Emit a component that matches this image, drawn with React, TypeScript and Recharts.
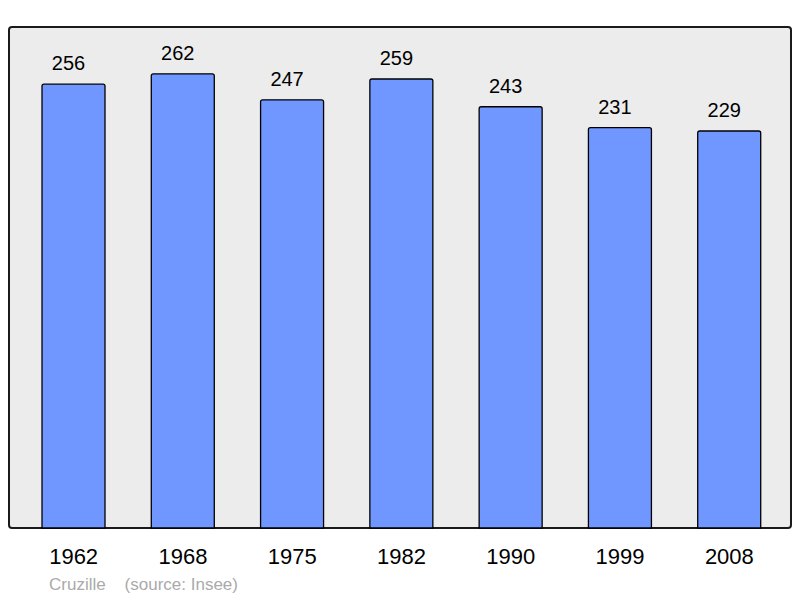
import { Bar, BarChart, LabelList, XAxis, YAxis } from "recharts";

const years = ["1962", "1968", "1975", "1982", "1990", "1999", "2008"];
const population = [256, 262, 247, 259, 243, 231, 229];

const data = years.map((year, i) => ({ year, population: population[i] }));

const font = '"Liberation Sans", Arial, sans-serif';

export default function App() {
    return (
        <div style={{ position: "absolute", left: 0, top: 0, width: 800, height: 598, background: "#fff", fontFamily: font }}>
            {/* plot frame */}
            <div
                style={{
                    position: "absolute",
                    left: 8,
                    top: 26,
                    width: 780,
                    height: 499,
                    border: "2px solid #1a1a1a",
                    borderRadius: 4,
                    background: "#ececec",
                }}
            />
            <BarChart
                width={800}
                height={598}
                data={data}
                margin={{ top: 27, right: 8, bottom: 0, left: 9 }}
                style={{ position: "absolute", left: 0, top: 0 }}
            >
                <YAxis hide domain={[0, 289]} />
                <XAxis
                    dataKey="year"
                    height={70}
                    axisLine={false}
                    tickLine={false}
                    tickMargin={14}
                    padding={{ left: 10, right: 8 }}
                    tick={{ fontSize: 22, fill: "#000", fontFamily: font }}
                />
                <Bar
                    dataKey="population"
                    barSize={63}
                    fill="#7096ff"
                    stroke="#000"
                    strokeWidth={1.3}
                    radius={[2, 2, 0, 0]}
                    isAnimationActive={false}
                >
                    <LabelList
                        dataKey="population"
                        position="top"
                        offset={14}
                        dx={-5}
                        style={{ fontSize: 20, fill: "#000", fontFamily: font }}
                    />
                </Bar>
            </BarChart>
            <div style={{ position: "absolute", left: 49, top: 575, fontSize: 17, color: "#aaa", whiteSpace: "pre" }}>
                {"Cruzille    (source: Insee)"}
            </div>
        </div>
    );
}
